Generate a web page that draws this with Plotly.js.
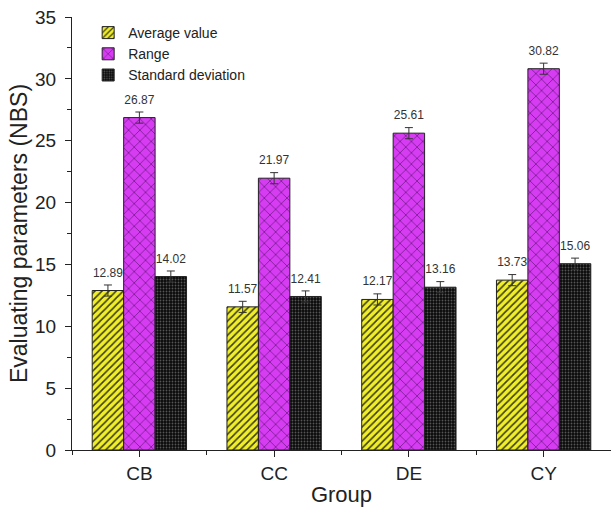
<!DOCTYPE html>
<html>
<head>
<meta charset="utf-8">
<script src="https://cdn.plot.ly/plotly-3.0.1.min.js"></script>
<style>html,body{margin:0;padding:0;background:#fff;}#chart{width:611px;height:508px;}</style>
</head>
<body>
<div id="chart"></div>
<script>
const groups = ['CB', 'CC', 'DE', 'CY'];
const averageValue = [12.89, 11.57, 12.17, 13.73];
const rangeValue = [26.87, 21.97, 25.61, 30.82];
const stdDeviation = [14.02, 12.41, 13.16, 15.06];
const averageErr = [0.45, 0.45, 0.45, 0.45];
const rangeErr = [0.45, 0.45, 0.45, 0.45];
const stdErr = [0.45, 0.45, 0.45, 0.45];

const font = 'Arial, Liberation Sans, sans-serif';

function barTrace(name, y, err, bg, fg, shape, size, solidity, grp) {
  return {
    type: 'bar', name: name, x: groups, y: y, offsetgroup: grp,
    marker: {color: bg, line: {color: '#222', width: 1},
      pattern: {shape: shape, fgcolor: fg, bgcolor: bg, size: size, solidity: solidity, fillmode: 'replace'}},
    error_y: {type: 'data', array: err, visible: true, color: '#333', thickness: 1, width: 4}
  };
}
function labelTrace(y, err, grp) {
  return {
    type: 'scatter', mode: 'markers+text', x: groups, y: y.map((v, i) => v + err[i]),
    marker: {size: 7, color: 'rgba(0,0,0,0)'},
    text: y.map(v => v.toFixed(2)), textposition: 'top center', offsetgroup: grp,
    cliponaxis: false, showlegend: false, hoverinfo: 'skip',
    textfont: {family: font, size: 12, color: '#333'}
  };
}

const data = [
  barTrace('Average value', averageValue, averageErr, '#f0ee2a', '#3a3a10', '/', 5, 0.3, 'a'),
  barTrace('Range', rangeValue, rangeErr, '#d63cf2', '#5a1470', 'x', 8, 0.15, 'b'),
  barTrace('Standard deviation', stdDeviation, stdErr, '#0a0a0a', '#555555', '.', 3, 0.3, 'c'),
  labelTrace(averageValue, averageErr, 'a'),
  labelTrace(rangeValue, rangeErr, 'b'),
  labelTrace(stdDeviation, stdErr, 'c'),
  {type: 'scatter', x: [0], y: [null], xaxis: 'x2', showlegend: false, hoverinfo: 'skip'}
];

const layout = {
  width: 611, height: 508,
  margin: {l: 72, r: 0, t: 17, b: 58},
  paper_bgcolor: '#fff', plot_bgcolor: '#fff',
  barmode: 'group', bargap: 0.3, bargroupgap: 0,
  scattermode: 'group', scattergap: 0.3,
  font: {family: font, color: '#222'},
  showlegend: true,
  legend: {x: 0.03, y: 1.0, xanchor: 'left', yanchor: 'top', bgcolor: 'rgba(0,0,0,0)',
    font: {family: font, size: 14, color: '#222'}, tracegroupgap: 0, itemwidth: 30},
  xaxis: {type: 'category', range: [-0.5, 3.5], showline: true, linecolor: '#222', linewidth: 1,
    ticks: 'outside', ticklen: 6, tickcolor: '#222', showgrid: false, zeroline: false,
    tickfont: {family: font, size: 19, color: '#222'},
    title: {text: 'Group', font: {family: font, size: 22, color: '#222'}, standoff: 3}},
  xaxis2: {overlaying: 'x', anchor: 'y', range: [-0.5, 3.5], tick0: 0.5, dtick: 1,
    ticks: 'outside', ticklen: 4, tickcolor: '#222', showticklabels: false, showgrid: false,
    zeroline: false, showline: false},
  yaxis: {range: [0, 35], dtick: 5, showline: true, linecolor: '#222', linewidth: 1,
    ticks: 'outside', ticklen: 6, tickcolor: '#222', showgrid: false, zeroline: false,
    ticklabelstandoff: 5,
    tickfont: {family: font, size: 19, color: '#222'},
    minor: {dtick: 2.5, ticks: 'outside', ticklen: 4, tickcolor: '#222', showgrid: false},
    title: {text: 'Evaluating parameters (NBS)', font: {family: font, size: 23, color: '#222'}, standoff: 1}}
};

Plotly.newPlot('chart', data, layout, {displayModeBar: false, staticPlot: true});
</script>
</body>
</html>
